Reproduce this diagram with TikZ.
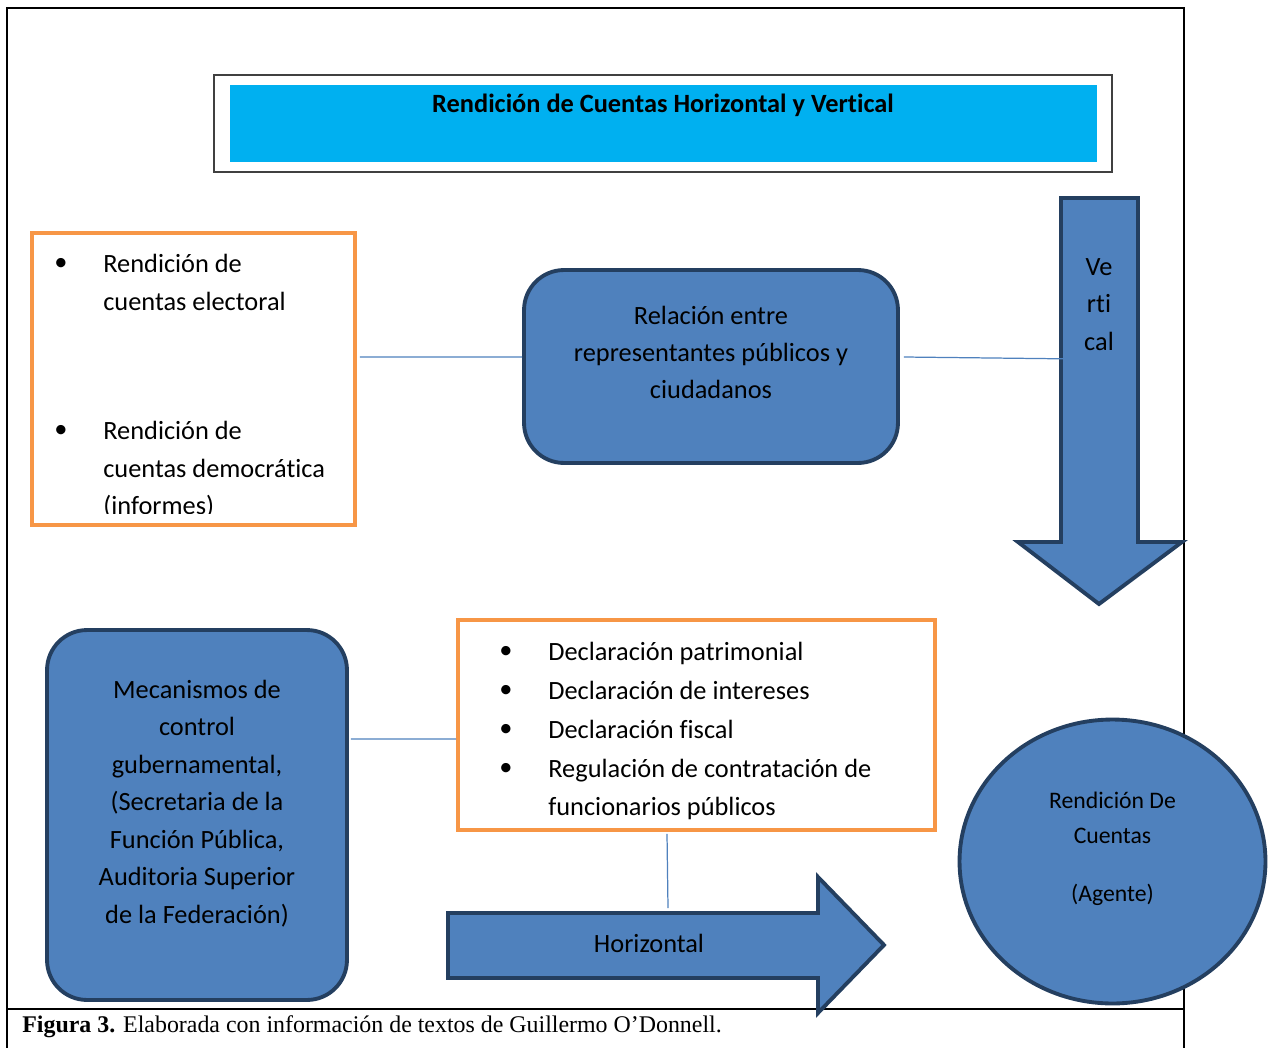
\documentclass[tikz,border=0pt]{standalone}
\usepackage{fontspec}
\setmainfont{Carlito}[Ligatures=NoCommon]
\newfontfamily\capfont{Liberation Serif}
\usetikzlibrary{positioning, shapes.geometric}

\definecolor{boxblue}{HTML}{4F81BD}
\definecolor{boxedge}{HTML}{243F60}
\definecolor{boxorange}{HTML}{F79646}
\definecolor{titlecyan}{HTML}{00B0F0}

\begin{document}
\begin{tikzpicture}[
            x = 0.02cm, y = -0.02cm,
            txt/.style = {font=\fontsize{15}{21.3}\selectfont, inner sep=0pt},
            rbox/.style = {draw=boxedge, fill=boxblue, line width=2.2pt, rounded corners=0.8cm},
            obox/.style = {draw=boxorange, line width=2.2pt},
            bul/.style = {txt, anchor=center},
            item/.style = {txt, anchor=north west, align=left},
            link/.style = {draw=boxblue, line width=0.7pt},
            bigarrow/.style = {draw=boxedge, fill=boxblue, line width=2.2pt, line join=miter},
            frame/.style = {draw=black, line width=1.1pt}
        ]
            \useasboundingbox (0,0) rectangle (1268,1048);

            % Frame
            \draw[frame] (7,1048) -- (7,8) -- (1184,8) -- (1184,1048);
            \draw[frame] (7,1009) -- (1184,1009);

            % Title
            \node[draw=black!75, line width=1.1pt, minimum width=17.96cm, minimum height=1.94cm] (titlebox) at (663,123.5) {};
            \node[fill=titlecyan, minimum width=17.34cm, minimum height=1.54cm, inner sep=0pt] (title) at (663.5,123.5) {};
            \node[txt, font=\fontsize{15}{21}\selectfont\bfseries] (titletext) at (663,105) {Rendición de Cuentas Horizontal y Vertical};

            % Boxes
            \node[obox, minimum width=6.46cm, minimum height=5.84cm] (electoral) at (193.5,379) {};
            \node[rbox, minimum width=7.48cm, minimum height=3.86cm] (rel) at (711,366.5) {};
            \node[rbox, minimum width=6cm, minimum height=7.4cm] (mec) at (197,815) {};
            \node[obox, minimum width=9.54cm, minimum height=4.2cm] (decl) at (696.5,725) {};

            % Texts in the left list (cut at the bottom, as in a text box)
            \begin{scope}
                \clip (34,235) rectangle (353,513);
                \node[bul] (b1) at (61,264) {•};
                \node[item] (e1) at (103,254) {Rendición de\\cuentas electoral};
                \node[bul] (b2) at (61,431) {•};
                \node[item] (e2) at (103,421) {Rendición de\\cuentas democrática\\(informes)};
            \end{scope}

            \node[txt, align=center] (reltext) at (711,352.5) {Relación entre\\representantes públicos y\\ciudadanos};
            \node[txt, align=center] (mectext) at (197,803.5) {Mecanismos de\\control\\gubernamental,\\(Secretaria de la\\Función Pública,\\Auditoria Superior\\de la Federación)};

            % Texts in the right list
            \node[bul] (b3) at (506,652) {•};
            \node[item] (d1) at (548,642) {Declaración patrimonial};
            \node[bul] (b4) at (506,691) {•};
            \node[item] (d2) at (548,681) {Declaración de intereses};
            \node[bul] (b5) at (506,730) {•};
            \node[item] (d3) at (548,720) {Declaración fiscal};
            \node[bul] (b6) at (506,769) {•};
            \node[item] (d4) at (548,759) {Regulación de contratación de\\funcionarios públicos};

            % Big arrows
            \draw[bigarrow] (1061,198) -- (1138,198) -- (1138,542) -- (1182,542) -- (1099,604)
                -- (1018,542) -- (1061,542) -- cycle;
            \node[txt, align=center] (vert) at (1099,304.5) {Ve\\rti\\cal};
            \draw[bigarrow] (448,913) -- (818,913) -- (818,877) -- (884,945) -- (818,1013)
                -- (818,978) -- (448,978) -- cycle;
            \node[txt] (horiz) at (649,943) {Horizontal};

            % Agent
            \node[ellipse, draw=boxedge, fill=boxblue, line width=2.2pt, minimum width=6.12cm, minimum height=5.68cm] (agent) at (1112.5,861.5) {};
            \node[txt, font=\fontsize{13.5}{19.8}\selectfont, align=center] (agenttext) at (1112.5,849) {Rendición De\\Cuentas\\[0.46cm](Agente)};

            % Links
            \coordinate (vend) at (1080,359);
            \coordinate (hend) at (668,908);
            \draw[link] ([yshift=0.44cm]electoral.east) ++(3,0) -- ([yshift=0.19cm]rel.west);
            \draw[link] ([yshift=0.19cm]rel.east) ++(4,0) -- (vend);
            \draw[link] ([yshift=1.52cm]mec.east) ++(2,0) -- ([yshift=-0.28cm]decl.west);
            \draw[link] ([xshift=-0.59cm]decl.south) ++(0,2) -- (hend);

            % Caption
            \node[anchor=west, inner sep=0pt, font=\capfont\fontsize{13.6}{16}\selectfont] (caption) at (22,1027) {\textbf{Figura 3.} Elaborada con información de textos de Guillermo O’Donnell.};

        \end{tikzpicture}
\end{document}
